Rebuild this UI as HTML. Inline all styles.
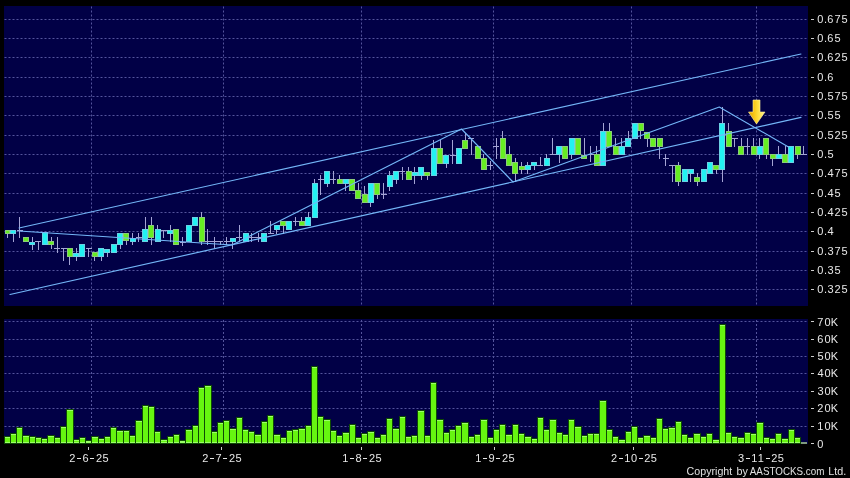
<!DOCTYPE html><html><head><meta charset="utf-8"><style>
html,body{margin:0;padding:0;background:#000;width:850px;height:478px;overflow:hidden}
svg{display:block}
#w{will-change:transform;width:850px;height:478px}
text{font-family:"Liberation Sans",sans-serif;fill:#e8e8e8}
.yl{font-size:11px}
.dl{font-size:11px}
.cp{font-size:10.3px;fill:#e0e0e0}
</style></head><body><div id="w">
<svg width="850" height="478" viewBox="0 0 850 478">
<rect x="0" y="0" width="850" height="478" fill="#000"/>
<rect x="4" y="6" width="804" height="300" fill="#010046"/>
<rect x="4" y="319" width="804" height="125" fill="#010046"/>
<g stroke="#54549c" stroke-width="1" stroke-dasharray="2 2">
<line x1="4.5" y1="19.5" x2="808" y2="19.5"/>
<line x1="4.5" y1="38.5" x2="808" y2="38.5"/>
<line x1="4.5" y1="57.5" x2="808" y2="57.5"/>
<line x1="4.5" y1="77.5" x2="808" y2="77.5"/>
<line x1="4.5" y1="96.5" x2="808" y2="96.5"/>
<line x1="4.5" y1="115.5" x2="808" y2="115.5"/>
<line x1="4.5" y1="135.5" x2="808" y2="135.5"/>
<line x1="4.5" y1="154.5" x2="808" y2="154.5"/>
<line x1="4.5" y1="173.5" x2="808" y2="173.5"/>
<line x1="4.5" y1="193.5" x2="808" y2="193.5"/>
<line x1="4.5" y1="212.5" x2="808" y2="212.5"/>
<line x1="4.5" y1="231.5" x2="808" y2="231.5"/>
<line x1="4.5" y1="251.5" x2="808" y2="251.5"/>
<line x1="4.5" y1="270.5" x2="808" y2="270.5"/>
<line x1="4.5" y1="289.5" x2="808" y2="289.5"/>
<line x1="4.5" y1="321.5" x2="808" y2="321.5"/>
<line x1="4.5" y1="339.5" x2="808" y2="339.5"/>
<line x1="4.5" y1="356.5" x2="808" y2="356.5"/>
<line x1="4.5" y1="373.5" x2="808" y2="373.5"/>
<line x1="4.5" y1="391.5" x2="808" y2="391.5"/>
<line x1="4.5" y1="408.5" x2="808" y2="408.5"/>
<line x1="4.5" y1="426.5" x2="808" y2="426.5"/>
<line x1="91.5" y1="6.5" x2="91.5" y2="306"/>
<line x1="91.5" y1="320" x2="91.5" y2="444"/>
<line x1="223.5" y1="6.5" x2="223.5" y2="306"/>
<line x1="223.5" y1="320" x2="223.5" y2="444"/>
<line x1="361.5" y1="6.5" x2="361.5" y2="306"/>
<line x1="361.5" y1="320" x2="361.5" y2="444"/>
<line x1="493.5" y1="6.5" x2="493.5" y2="306"/>
<line x1="493.5" y1="320" x2="493.5" y2="444"/>
<line x1="631.5" y1="6.5" x2="631.5" y2="306"/>
<line x1="631.5" y1="320" x2="631.5" y2="444"/>
<line x1="756.5" y1="6.5" x2="756.5" y2="306"/>
<line x1="756.5" y1="320" x2="756.5" y2="444"/>
</g>
<g shape-rendering="crispEdges">
<rect x="4" y="436" width="7" height="8" fill="#0e4a04"/>
<rect x="5" y="437" width="5" height="6" fill="#66f510"/>
<rect x="5" y="437" width="5" height="1" fill="#9cff6a"/>
<rect x="5" y="442" width="5" height="1" fill="#9cff6a"/>
<rect x="10" y="433" width="7" height="11" fill="#0e4a04"/>
<rect x="11" y="434" width="5" height="9" fill="#66f510"/>
<rect x="11" y="434" width="5" height="1" fill="#9cff6a"/>
<rect x="11" y="442" width="5" height="1" fill="#9cff6a"/>
<rect x="16" y="427" width="7" height="17" fill="#0e4a04"/>
<rect x="17" y="428" width="5" height="15" fill="#66f510"/>
<rect x="17" y="428" width="5" height="1" fill="#9cff6a"/>
<rect x="17" y="442" width="5" height="1" fill="#9cff6a"/>
<rect x="22" y="435" width="8" height="9" fill="#0e4a04"/>
<rect x="23" y="436" width="6" height="7" fill="#66f510"/>
<rect x="23" y="436" width="6" height="1" fill="#9cff6a"/>
<rect x="23" y="442" width="6" height="1" fill="#9cff6a"/>
<rect x="29" y="436" width="7" height="8" fill="#0e4a04"/>
<rect x="30" y="437" width="5" height="6" fill="#66f510"/>
<rect x="30" y="437" width="5" height="1" fill="#9cff6a"/>
<rect x="30" y="442" width="5" height="1" fill="#9cff6a"/>
<rect x="35" y="437" width="7" height="7" fill="#0e4a04"/>
<rect x="36" y="438" width="5" height="5" fill="#66f510"/>
<rect x="36" y="438" width="5" height="1" fill="#9cff6a"/>
<rect x="36" y="442" width="5" height="1" fill="#9cff6a"/>
<rect x="41" y="438" width="7" height="6" fill="#0e4a04"/>
<rect x="42" y="439" width="5" height="4" fill="#66f510"/>
<rect x="42" y="439" width="5" height="1" fill="#9cff6a"/>
<rect x="42" y="442" width="5" height="1" fill="#9cff6a"/>
<rect x="47" y="435" width="8" height="9" fill="#0e4a04"/>
<rect x="48" y="436" width="6" height="7" fill="#66f510"/>
<rect x="48" y="436" width="6" height="1" fill="#9cff6a"/>
<rect x="48" y="442" width="6" height="1" fill="#9cff6a"/>
<rect x="54" y="437" width="7" height="7" fill="#0e4a04"/>
<rect x="55" y="438" width="5" height="5" fill="#66f510"/>
<rect x="55" y="438" width="5" height="1" fill="#9cff6a"/>
<rect x="55" y="442" width="5" height="1" fill="#9cff6a"/>
<rect x="60" y="426" width="7" height="18" fill="#0e4a04"/>
<rect x="61" y="427" width="5" height="16" fill="#66f510"/>
<rect x="61" y="427" width="5" height="1" fill="#9cff6a"/>
<rect x="61" y="442" width="5" height="1" fill="#9cff6a"/>
<rect x="66" y="409" width="8" height="35" fill="#0e4a04"/>
<rect x="67" y="410" width="6" height="33" fill="#66f510"/>
<rect x="67" y="410" width="6" height="1" fill="#9cff6a"/>
<rect x="67" y="442" width="6" height="1" fill="#9cff6a"/>
<rect x="73" y="439" width="7" height="5" fill="#0e4a04"/>
<rect x="74" y="440" width="5" height="3" fill="#66f510"/>
<rect x="74" y="440" width="5" height="1" fill="#9cff6a"/>
<rect x="74" y="442" width="5" height="1" fill="#9cff6a"/>
<rect x="79" y="437" width="7" height="7" fill="#0e4a04"/>
<rect x="80" y="438" width="5" height="5" fill="#66f510"/>
<rect x="80" y="438" width="5" height="1" fill="#9cff6a"/>
<rect x="80" y="442" width="5" height="1" fill="#9cff6a"/>
<rect x="85" y="440" width="7" height="4" fill="#0e4a04"/>
<rect x="86" y="441" width="5" height="2" fill="#66f510"/>
<rect x="86" y="441" width="5" height="1" fill="#9cff6a"/>
<rect x="86" y="442" width="5" height="1" fill="#9cff6a"/>
<rect x="91" y="436" width="8" height="8" fill="#0e4a04"/>
<rect x="92" y="437" width="6" height="6" fill="#66f510"/>
<rect x="92" y="437" width="6" height="1" fill="#9cff6a"/>
<rect x="92" y="442" width="6" height="1" fill="#9cff6a"/>
<rect x="98" y="438" width="7" height="6" fill="#0e4a04"/>
<rect x="99" y="439" width="5" height="4" fill="#66f510"/>
<rect x="99" y="439" width="5" height="1" fill="#9cff6a"/>
<rect x="99" y="442" width="5" height="1" fill="#9cff6a"/>
<rect x="104" y="436" width="7" height="8" fill="#0e4a04"/>
<rect x="105" y="437" width="5" height="6" fill="#66f510"/>
<rect x="105" y="437" width="5" height="1" fill="#9cff6a"/>
<rect x="105" y="442" width="5" height="1" fill="#9cff6a"/>
<rect x="110" y="427" width="7" height="17" fill="#0e4a04"/>
<rect x="111" y="428" width="5" height="15" fill="#66f510"/>
<rect x="111" y="428" width="5" height="1" fill="#9cff6a"/>
<rect x="111" y="442" width="5" height="1" fill="#9cff6a"/>
<rect x="116" y="430" width="8" height="14" fill="#0e4a04"/>
<rect x="117" y="431" width="6" height="12" fill="#66f510"/>
<rect x="117" y="431" width="6" height="1" fill="#9cff6a"/>
<rect x="117" y="442" width="6" height="1" fill="#9cff6a"/>
<rect x="123" y="430" width="7" height="14" fill="#0e4a04"/>
<rect x="124" y="431" width="5" height="12" fill="#66f510"/>
<rect x="124" y="431" width="5" height="1" fill="#9cff6a"/>
<rect x="124" y="442" width="5" height="1" fill="#9cff6a"/>
<rect x="129" y="435" width="7" height="9" fill="#0e4a04"/>
<rect x="130" y="436" width="5" height="7" fill="#66f510"/>
<rect x="130" y="436" width="5" height="1" fill="#9cff6a"/>
<rect x="130" y="442" width="5" height="1" fill="#9cff6a"/>
<rect x="135" y="420" width="8" height="24" fill="#0e4a04"/>
<rect x="136" y="421" width="6" height="22" fill="#66f510"/>
<rect x="136" y="421" width="6" height="1" fill="#9cff6a"/>
<rect x="136" y="442" width="6" height="1" fill="#9cff6a"/>
<rect x="142" y="405" width="7" height="39" fill="#0e4a04"/>
<rect x="143" y="406" width="5" height="37" fill="#66f510"/>
<rect x="143" y="406" width="5" height="1" fill="#9cff6a"/>
<rect x="143" y="442" width="5" height="1" fill="#9cff6a"/>
<rect x="148" y="406" width="7" height="38" fill="#0e4a04"/>
<rect x="149" y="407" width="5" height="36" fill="#66f510"/>
<rect x="149" y="407" width="5" height="1" fill="#9cff6a"/>
<rect x="149" y="442" width="5" height="1" fill="#9cff6a"/>
<rect x="154" y="431" width="7" height="13" fill="#0e4a04"/>
<rect x="155" y="432" width="5" height="11" fill="#66f510"/>
<rect x="155" y="432" width="5" height="1" fill="#9cff6a"/>
<rect x="155" y="442" width="5" height="1" fill="#9cff6a"/>
<rect x="160" y="439" width="8" height="5" fill="#0e4a04"/>
<rect x="161" y="440" width="6" height="3" fill="#66f510"/>
<rect x="161" y="440" width="6" height="1" fill="#9cff6a"/>
<rect x="161" y="442" width="6" height="1" fill="#9cff6a"/>
<rect x="167" y="436" width="7" height="8" fill="#0e4a04"/>
<rect x="168" y="437" width="5" height="6" fill="#66f510"/>
<rect x="168" y="437" width="5" height="1" fill="#9cff6a"/>
<rect x="168" y="442" width="5" height="1" fill="#9cff6a"/>
<rect x="173" y="434" width="7" height="10" fill="#0e4a04"/>
<rect x="174" y="435" width="5" height="8" fill="#66f510"/>
<rect x="174" y="435" width="5" height="1" fill="#9cff6a"/>
<rect x="174" y="442" width="5" height="1" fill="#9cff6a"/>
<rect x="179" y="440" width="7" height="4" fill="#0e4a04"/>
<rect x="180" y="441" width="5" height="2" fill="#66f510"/>
<rect x="180" y="441" width="5" height="1" fill="#9cff6a"/>
<rect x="180" y="442" width="5" height="1" fill="#9cff6a"/>
<rect x="185" y="429" width="8" height="15" fill="#0e4a04"/>
<rect x="186" y="430" width="6" height="13" fill="#66f510"/>
<rect x="186" y="430" width="6" height="1" fill="#9cff6a"/>
<rect x="186" y="442" width="6" height="1" fill="#9cff6a"/>
<rect x="192" y="425" width="7" height="19" fill="#0e4a04"/>
<rect x="193" y="426" width="5" height="17" fill="#66f510"/>
<rect x="193" y="426" width="5" height="1" fill="#9cff6a"/>
<rect x="193" y="442" width="5" height="1" fill="#9cff6a"/>
<rect x="198" y="387" width="7" height="57" fill="#0e4a04"/>
<rect x="199" y="388" width="5" height="55" fill="#66f510"/>
<rect x="199" y="388" width="5" height="1" fill="#9cff6a"/>
<rect x="199" y="442" width="5" height="1" fill="#9cff6a"/>
<rect x="204" y="385" width="8" height="59" fill="#0e4a04"/>
<rect x="205" y="386" width="6" height="57" fill="#66f510"/>
<rect x="205" y="386" width="6" height="1" fill="#9cff6a"/>
<rect x="205" y="442" width="6" height="1" fill="#9cff6a"/>
<rect x="211" y="431" width="7" height="13" fill="#0e4a04"/>
<rect x="212" y="432" width="5" height="11" fill="#66f510"/>
<rect x="212" y="432" width="5" height="1" fill="#9cff6a"/>
<rect x="212" y="442" width="5" height="1" fill="#9cff6a"/>
<rect x="217" y="422" width="7" height="22" fill="#0e4a04"/>
<rect x="218" y="423" width="5" height="20" fill="#66f510"/>
<rect x="218" y="423" width="5" height="1" fill="#9cff6a"/>
<rect x="218" y="442" width="5" height="1" fill="#9cff6a"/>
<rect x="223" y="420" width="7" height="24" fill="#0e4a04"/>
<rect x="224" y="421" width="5" height="22" fill="#66f510"/>
<rect x="224" y="421" width="5" height="1" fill="#9cff6a"/>
<rect x="224" y="442" width="5" height="1" fill="#9cff6a"/>
<rect x="229" y="428" width="8" height="16" fill="#0e4a04"/>
<rect x="230" y="429" width="6" height="14" fill="#66f510"/>
<rect x="230" y="429" width="6" height="1" fill="#9cff6a"/>
<rect x="230" y="442" width="6" height="1" fill="#9cff6a"/>
<rect x="236" y="417" width="7" height="27" fill="#0e4a04"/>
<rect x="237" y="418" width="5" height="25" fill="#66f510"/>
<rect x="237" y="418" width="5" height="1" fill="#9cff6a"/>
<rect x="237" y="442" width="5" height="1" fill="#9cff6a"/>
<rect x="242" y="429" width="7" height="15" fill="#0e4a04"/>
<rect x="243" y="430" width="5" height="13" fill="#66f510"/>
<rect x="243" y="430" width="5" height="1" fill="#9cff6a"/>
<rect x="243" y="442" width="5" height="1" fill="#9cff6a"/>
<rect x="248" y="431" width="7" height="13" fill="#0e4a04"/>
<rect x="249" y="432" width="5" height="11" fill="#66f510"/>
<rect x="249" y="432" width="5" height="1" fill="#9cff6a"/>
<rect x="249" y="442" width="5" height="1" fill="#9cff6a"/>
<rect x="254" y="434" width="8" height="10" fill="#0e4a04"/>
<rect x="255" y="435" width="6" height="8" fill="#66f510"/>
<rect x="255" y="435" width="6" height="1" fill="#9cff6a"/>
<rect x="255" y="442" width="6" height="1" fill="#9cff6a"/>
<rect x="261" y="421" width="7" height="23" fill="#0e4a04"/>
<rect x="262" y="422" width="5" height="21" fill="#66f510"/>
<rect x="262" y="422" width="5" height="1" fill="#9cff6a"/>
<rect x="262" y="442" width="5" height="1" fill="#9cff6a"/>
<rect x="267" y="415" width="7" height="29" fill="#0e4a04"/>
<rect x="268" y="416" width="5" height="27" fill="#66f510"/>
<rect x="268" y="416" width="5" height="1" fill="#9cff6a"/>
<rect x="268" y="442" width="5" height="1" fill="#9cff6a"/>
<rect x="273" y="434" width="8" height="10" fill="#0e4a04"/>
<rect x="274" y="435" width="6" height="8" fill="#66f510"/>
<rect x="274" y="435" width="6" height="1" fill="#9cff6a"/>
<rect x="274" y="442" width="6" height="1" fill="#9cff6a"/>
<rect x="280" y="437" width="7" height="7" fill="#0e4a04"/>
<rect x="281" y="438" width="5" height="5" fill="#66f510"/>
<rect x="281" y="438" width="5" height="1" fill="#9cff6a"/>
<rect x="281" y="442" width="5" height="1" fill="#9cff6a"/>
<rect x="286" y="430" width="7" height="14" fill="#0e4a04"/>
<rect x="287" y="431" width="5" height="12" fill="#66f510"/>
<rect x="287" y="431" width="5" height="1" fill="#9cff6a"/>
<rect x="287" y="442" width="5" height="1" fill="#9cff6a"/>
<rect x="292" y="429" width="7" height="15" fill="#0e4a04"/>
<rect x="293" y="430" width="5" height="13" fill="#66f510"/>
<rect x="293" y="430" width="5" height="1" fill="#9cff6a"/>
<rect x="293" y="442" width="5" height="1" fill="#9cff6a"/>
<rect x="298" y="428" width="8" height="16" fill="#0e4a04"/>
<rect x="299" y="429" width="6" height="14" fill="#66f510"/>
<rect x="299" y="429" width="6" height="1" fill="#9cff6a"/>
<rect x="299" y="442" width="6" height="1" fill="#9cff6a"/>
<rect x="305" y="425" width="7" height="19" fill="#0e4a04"/>
<rect x="306" y="426" width="5" height="17" fill="#66f510"/>
<rect x="306" y="426" width="5" height="1" fill="#9cff6a"/>
<rect x="306" y="442" width="5" height="1" fill="#9cff6a"/>
<rect x="311" y="366" width="7" height="78" fill="#0e4a04"/>
<rect x="312" y="367" width="5" height="76" fill="#66f510"/>
<rect x="312" y="367" width="5" height="1" fill="#9cff6a"/>
<rect x="312" y="442" width="5" height="1" fill="#9cff6a"/>
<rect x="317" y="416" width="7" height="28" fill="#0e4a04"/>
<rect x="318" y="417" width="5" height="26" fill="#66f510"/>
<rect x="318" y="417" width="5" height="1" fill="#9cff6a"/>
<rect x="318" y="442" width="5" height="1" fill="#9cff6a"/>
<rect x="323" y="419" width="8" height="25" fill="#0e4a04"/>
<rect x="324" y="420" width="6" height="23" fill="#66f510"/>
<rect x="324" y="420" width="6" height="1" fill="#9cff6a"/>
<rect x="324" y="442" width="6" height="1" fill="#9cff6a"/>
<rect x="330" y="430" width="7" height="14" fill="#0e4a04"/>
<rect x="331" y="431" width="5" height="12" fill="#66f510"/>
<rect x="331" y="431" width="5" height="1" fill="#9cff6a"/>
<rect x="331" y="442" width="5" height="1" fill="#9cff6a"/>
<rect x="336" y="435" width="7" height="9" fill="#0e4a04"/>
<rect x="337" y="436" width="5" height="7" fill="#66f510"/>
<rect x="337" y="436" width="5" height="1" fill="#9cff6a"/>
<rect x="337" y="442" width="5" height="1" fill="#9cff6a"/>
<rect x="342" y="432" width="8" height="12" fill="#0e4a04"/>
<rect x="343" y="433" width="6" height="10" fill="#66f510"/>
<rect x="343" y="433" width="6" height="1" fill="#9cff6a"/>
<rect x="343" y="442" width="6" height="1" fill="#9cff6a"/>
<rect x="349" y="424" width="7" height="20" fill="#0e4a04"/>
<rect x="350" y="425" width="5" height="18" fill="#66f510"/>
<rect x="350" y="425" width="5" height="1" fill="#9cff6a"/>
<rect x="350" y="442" width="5" height="1" fill="#9cff6a"/>
<rect x="355" y="437" width="7" height="7" fill="#0e4a04"/>
<rect x="356" y="438" width="5" height="5" fill="#66f510"/>
<rect x="356" y="438" width="5" height="1" fill="#9cff6a"/>
<rect x="356" y="442" width="5" height="1" fill="#9cff6a"/>
<rect x="361" y="433" width="7" height="11" fill="#0e4a04"/>
<rect x="362" y="434" width="5" height="9" fill="#66f510"/>
<rect x="362" y="434" width="5" height="1" fill="#9cff6a"/>
<rect x="362" y="442" width="5" height="1" fill="#9cff6a"/>
<rect x="367" y="431" width="8" height="13" fill="#0e4a04"/>
<rect x="368" y="432" width="6" height="11" fill="#66f510"/>
<rect x="368" y="432" width="6" height="1" fill="#9cff6a"/>
<rect x="368" y="442" width="6" height="1" fill="#9cff6a"/>
<rect x="374" y="437" width="7" height="7" fill="#0e4a04"/>
<rect x="375" y="438" width="5" height="5" fill="#66f510"/>
<rect x="375" y="438" width="5" height="1" fill="#9cff6a"/>
<rect x="375" y="442" width="5" height="1" fill="#9cff6a"/>
<rect x="380" y="434" width="7" height="10" fill="#0e4a04"/>
<rect x="381" y="435" width="5" height="8" fill="#66f510"/>
<rect x="381" y="435" width="5" height="1" fill="#9cff6a"/>
<rect x="381" y="442" width="5" height="1" fill="#9cff6a"/>
<rect x="386" y="418" width="7" height="26" fill="#0e4a04"/>
<rect x="387" y="419" width="5" height="24" fill="#66f510"/>
<rect x="387" y="419" width="5" height="1" fill="#9cff6a"/>
<rect x="387" y="442" width="5" height="1" fill="#9cff6a"/>
<rect x="392" y="428" width="8" height="16" fill="#0e4a04"/>
<rect x="393" y="429" width="6" height="14" fill="#66f510"/>
<rect x="393" y="429" width="6" height="1" fill="#9cff6a"/>
<rect x="393" y="442" width="6" height="1" fill="#9cff6a"/>
<rect x="399" y="416" width="7" height="28" fill="#0e4a04"/>
<rect x="400" y="417" width="5" height="26" fill="#66f510"/>
<rect x="400" y="417" width="5" height="1" fill="#9cff6a"/>
<rect x="400" y="442" width="5" height="1" fill="#9cff6a"/>
<rect x="405" y="436" width="7" height="8" fill="#0e4a04"/>
<rect x="406" y="437" width="5" height="6" fill="#66f510"/>
<rect x="406" y="437" width="5" height="1" fill="#9cff6a"/>
<rect x="406" y="442" width="5" height="1" fill="#9cff6a"/>
<rect x="411" y="435" width="7" height="9" fill="#0e4a04"/>
<rect x="412" y="436" width="5" height="7" fill="#66f510"/>
<rect x="412" y="436" width="5" height="1" fill="#9cff6a"/>
<rect x="412" y="442" width="5" height="1" fill="#9cff6a"/>
<rect x="417" y="410" width="8" height="34" fill="#0e4a04"/>
<rect x="418" y="411" width="6" height="32" fill="#66f510"/>
<rect x="418" y="411" width="6" height="1" fill="#9cff6a"/>
<rect x="418" y="442" width="6" height="1" fill="#9cff6a"/>
<rect x="424" y="435" width="7" height="9" fill="#0e4a04"/>
<rect x="425" y="436" width="5" height="7" fill="#66f510"/>
<rect x="425" y="436" width="5" height="1" fill="#9cff6a"/>
<rect x="425" y="442" width="5" height="1" fill="#9cff6a"/>
<rect x="430" y="382" width="7" height="62" fill="#0e4a04"/>
<rect x="431" y="383" width="5" height="60" fill="#66f510"/>
<rect x="431" y="383" width="5" height="1" fill="#9cff6a"/>
<rect x="431" y="442" width="5" height="1" fill="#9cff6a"/>
<rect x="436" y="419" width="8" height="25" fill="#0e4a04"/>
<rect x="437" y="420" width="6" height="23" fill="#66f510"/>
<rect x="437" y="420" width="6" height="1" fill="#9cff6a"/>
<rect x="437" y="442" width="6" height="1" fill="#9cff6a"/>
<rect x="443" y="432" width="7" height="12" fill="#0e4a04"/>
<rect x="444" y="433" width="5" height="10" fill="#66f510"/>
<rect x="444" y="433" width="5" height="1" fill="#9cff6a"/>
<rect x="444" y="442" width="5" height="1" fill="#9cff6a"/>
<rect x="449" y="429" width="7" height="15" fill="#0e4a04"/>
<rect x="450" y="430" width="5" height="13" fill="#66f510"/>
<rect x="450" y="430" width="5" height="1" fill="#9cff6a"/>
<rect x="450" y="442" width="5" height="1" fill="#9cff6a"/>
<rect x="455" y="425" width="7" height="19" fill="#0e4a04"/>
<rect x="456" y="426" width="5" height="17" fill="#66f510"/>
<rect x="456" y="426" width="5" height="1" fill="#9cff6a"/>
<rect x="456" y="442" width="5" height="1" fill="#9cff6a"/>
<rect x="461" y="422" width="8" height="22" fill="#0e4a04"/>
<rect x="462" y="423" width="6" height="20" fill="#66f510"/>
<rect x="462" y="423" width="6" height="1" fill="#9cff6a"/>
<rect x="462" y="442" width="6" height="1" fill="#9cff6a"/>
<rect x="468" y="436" width="7" height="8" fill="#0e4a04"/>
<rect x="469" y="437" width="5" height="6" fill="#66f510"/>
<rect x="469" y="437" width="5" height="1" fill="#9cff6a"/>
<rect x="469" y="442" width="5" height="1" fill="#9cff6a"/>
<rect x="474" y="434" width="7" height="10" fill="#0e4a04"/>
<rect x="475" y="435" width="5" height="8" fill="#66f510"/>
<rect x="475" y="435" width="5" height="1" fill="#9cff6a"/>
<rect x="475" y="442" width="5" height="1" fill="#9cff6a"/>
<rect x="480" y="419" width="8" height="25" fill="#0e4a04"/>
<rect x="481" y="420" width="6" height="23" fill="#66f510"/>
<rect x="481" y="420" width="6" height="1" fill="#9cff6a"/>
<rect x="481" y="442" width="6" height="1" fill="#9cff6a"/>
<rect x="487" y="437" width="7" height="7" fill="#0e4a04"/>
<rect x="488" y="438" width="5" height="5" fill="#66f510"/>
<rect x="488" y="438" width="5" height="1" fill="#9cff6a"/>
<rect x="488" y="442" width="5" height="1" fill="#9cff6a"/>
<rect x="493" y="429" width="7" height="15" fill="#0e4a04"/>
<rect x="494" y="430" width="5" height="13" fill="#66f510"/>
<rect x="494" y="430" width="5" height="1" fill="#9cff6a"/>
<rect x="494" y="442" width="5" height="1" fill="#9cff6a"/>
<rect x="499" y="424" width="7" height="20" fill="#0e4a04"/>
<rect x="500" y="425" width="5" height="18" fill="#66f510"/>
<rect x="500" y="425" width="5" height="1" fill="#9cff6a"/>
<rect x="500" y="442" width="5" height="1" fill="#9cff6a"/>
<rect x="505" y="434" width="8" height="10" fill="#0e4a04"/>
<rect x="506" y="435" width="6" height="8" fill="#66f510"/>
<rect x="506" y="435" width="6" height="1" fill="#9cff6a"/>
<rect x="506" y="442" width="6" height="1" fill="#9cff6a"/>
<rect x="512" y="424" width="7" height="20" fill="#0e4a04"/>
<rect x="513" y="425" width="5" height="18" fill="#66f510"/>
<rect x="513" y="425" width="5" height="1" fill="#9cff6a"/>
<rect x="513" y="442" width="5" height="1" fill="#9cff6a"/>
<rect x="518" y="433" width="7" height="11" fill="#0e4a04"/>
<rect x="519" y="434" width="5" height="9" fill="#66f510"/>
<rect x="519" y="434" width="5" height="1" fill="#9cff6a"/>
<rect x="519" y="442" width="5" height="1" fill="#9cff6a"/>
<rect x="524" y="436" width="8" height="8" fill="#0e4a04"/>
<rect x="525" y="437" width="6" height="6" fill="#66f510"/>
<rect x="525" y="437" width="6" height="1" fill="#9cff6a"/>
<rect x="525" y="442" width="6" height="1" fill="#9cff6a"/>
<rect x="531" y="438" width="7" height="6" fill="#0e4a04"/>
<rect x="532" y="439" width="5" height="4" fill="#66f510"/>
<rect x="532" y="439" width="5" height="1" fill="#9cff6a"/>
<rect x="532" y="442" width="5" height="1" fill="#9cff6a"/>
<rect x="537" y="417" width="7" height="27" fill="#0e4a04"/>
<rect x="538" y="418" width="5" height="25" fill="#66f510"/>
<rect x="538" y="418" width="5" height="1" fill="#9cff6a"/>
<rect x="538" y="442" width="5" height="1" fill="#9cff6a"/>
<rect x="543" y="429" width="7" height="15" fill="#0e4a04"/>
<rect x="544" y="430" width="5" height="13" fill="#66f510"/>
<rect x="544" y="430" width="5" height="1" fill="#9cff6a"/>
<rect x="544" y="442" width="5" height="1" fill="#9cff6a"/>
<rect x="549" y="419" width="8" height="25" fill="#0e4a04"/>
<rect x="550" y="420" width="6" height="23" fill="#66f510"/>
<rect x="550" y="420" width="6" height="1" fill="#9cff6a"/>
<rect x="550" y="442" width="6" height="1" fill="#9cff6a"/>
<rect x="556" y="432" width="7" height="12" fill="#0e4a04"/>
<rect x="557" y="433" width="5" height="10" fill="#66f510"/>
<rect x="557" y="433" width="5" height="1" fill="#9cff6a"/>
<rect x="557" y="442" width="5" height="1" fill="#9cff6a"/>
<rect x="562" y="434" width="7" height="10" fill="#0e4a04"/>
<rect x="563" y="435" width="5" height="8" fill="#66f510"/>
<rect x="563" y="435" width="5" height="1" fill="#9cff6a"/>
<rect x="563" y="442" width="5" height="1" fill="#9cff6a"/>
<rect x="568" y="419" width="7" height="25" fill="#0e4a04"/>
<rect x="569" y="420" width="5" height="23" fill="#66f510"/>
<rect x="569" y="420" width="5" height="1" fill="#9cff6a"/>
<rect x="569" y="442" width="5" height="1" fill="#9cff6a"/>
<rect x="574" y="426" width="8" height="18" fill="#0e4a04"/>
<rect x="575" y="427" width="6" height="16" fill="#66f510"/>
<rect x="575" y="427" width="6" height="1" fill="#9cff6a"/>
<rect x="575" y="442" width="6" height="1" fill="#9cff6a"/>
<rect x="581" y="435" width="7" height="9" fill="#0e4a04"/>
<rect x="582" y="436" width="5" height="7" fill="#66f510"/>
<rect x="582" y="436" width="5" height="1" fill="#9cff6a"/>
<rect x="582" y="442" width="5" height="1" fill="#9cff6a"/>
<rect x="587" y="433" width="7" height="11" fill="#0e4a04"/>
<rect x="588" y="434" width="5" height="9" fill="#66f510"/>
<rect x="588" y="434" width="5" height="1" fill="#9cff6a"/>
<rect x="588" y="442" width="5" height="1" fill="#9cff6a"/>
<rect x="593" y="433" width="7" height="11" fill="#0e4a04"/>
<rect x="594" y="434" width="5" height="9" fill="#66f510"/>
<rect x="594" y="434" width="5" height="1" fill="#9cff6a"/>
<rect x="594" y="442" width="5" height="1" fill="#9cff6a"/>
<rect x="599" y="400" width="8" height="44" fill="#0e4a04"/>
<rect x="600" y="401" width="6" height="42" fill="#66f510"/>
<rect x="600" y="401" width="6" height="1" fill="#9cff6a"/>
<rect x="600" y="442" width="6" height="1" fill="#9cff6a"/>
<rect x="606" y="429" width="7" height="15" fill="#0e4a04"/>
<rect x="607" y="430" width="5" height="13" fill="#66f510"/>
<rect x="607" y="430" width="5" height="1" fill="#9cff6a"/>
<rect x="607" y="442" width="5" height="1" fill="#9cff6a"/>
<rect x="612" y="436" width="7" height="8" fill="#0e4a04"/>
<rect x="613" y="437" width="5" height="6" fill="#66f510"/>
<rect x="613" y="437" width="5" height="1" fill="#9cff6a"/>
<rect x="613" y="442" width="5" height="1" fill="#9cff6a"/>
<rect x="618" y="439" width="8" height="5" fill="#0e4a04"/>
<rect x="619" y="440" width="6" height="3" fill="#66f510"/>
<rect x="619" y="440" width="6" height="1" fill="#9cff6a"/>
<rect x="619" y="442" width="6" height="1" fill="#9cff6a"/>
<rect x="625" y="431" width="7" height="13" fill="#0e4a04"/>
<rect x="626" y="432" width="5" height="11" fill="#66f510"/>
<rect x="626" y="432" width="5" height="1" fill="#9cff6a"/>
<rect x="626" y="442" width="5" height="1" fill="#9cff6a"/>
<rect x="631" y="426" width="7" height="18" fill="#0e4a04"/>
<rect x="632" y="427" width="5" height="16" fill="#66f510"/>
<rect x="632" y="427" width="5" height="1" fill="#9cff6a"/>
<rect x="632" y="442" width="5" height="1" fill="#9cff6a"/>
<rect x="637" y="437" width="7" height="7" fill="#0e4a04"/>
<rect x="638" y="438" width="5" height="5" fill="#66f510"/>
<rect x="638" y="438" width="5" height="1" fill="#9cff6a"/>
<rect x="638" y="442" width="5" height="1" fill="#9cff6a"/>
<rect x="643" y="435" width="8" height="9" fill="#0e4a04"/>
<rect x="644" y="436" width="6" height="7" fill="#66f510"/>
<rect x="644" y="436" width="6" height="1" fill="#9cff6a"/>
<rect x="644" y="442" width="6" height="1" fill="#9cff6a"/>
<rect x="650" y="437" width="7" height="7" fill="#0e4a04"/>
<rect x="651" y="438" width="5" height="5" fill="#66f510"/>
<rect x="651" y="438" width="5" height="1" fill="#9cff6a"/>
<rect x="651" y="442" width="5" height="1" fill="#9cff6a"/>
<rect x="656" y="418" width="7" height="26" fill="#0e4a04"/>
<rect x="657" y="419" width="5" height="24" fill="#66f510"/>
<rect x="657" y="419" width="5" height="1" fill="#9cff6a"/>
<rect x="657" y="442" width="5" height="1" fill="#9cff6a"/>
<rect x="662" y="428" width="7" height="16" fill="#0e4a04"/>
<rect x="663" y="429" width="5" height="14" fill="#66f510"/>
<rect x="663" y="429" width="5" height="1" fill="#9cff6a"/>
<rect x="663" y="442" width="5" height="1" fill="#9cff6a"/>
<rect x="668" y="427" width="8" height="17" fill="#0e4a04"/>
<rect x="669" y="428" width="6" height="15" fill="#66f510"/>
<rect x="669" y="428" width="6" height="1" fill="#9cff6a"/>
<rect x="669" y="442" width="6" height="1" fill="#9cff6a"/>
<rect x="675" y="421" width="7" height="23" fill="#0e4a04"/>
<rect x="676" y="422" width="5" height="21" fill="#66f510"/>
<rect x="676" y="422" width="5" height="1" fill="#9cff6a"/>
<rect x="676" y="442" width="5" height="1" fill="#9cff6a"/>
<rect x="681" y="434" width="7" height="10" fill="#0e4a04"/>
<rect x="682" y="435" width="5" height="8" fill="#66f510"/>
<rect x="682" y="435" width="5" height="1" fill="#9cff6a"/>
<rect x="682" y="442" width="5" height="1" fill="#9cff6a"/>
<rect x="687" y="437" width="7" height="7" fill="#0e4a04"/>
<rect x="688" y="438" width="5" height="5" fill="#66f510"/>
<rect x="688" y="438" width="5" height="1" fill="#9cff6a"/>
<rect x="688" y="442" width="5" height="1" fill="#9cff6a"/>
<rect x="693" y="433" width="8" height="11" fill="#0e4a04"/>
<rect x="694" y="434" width="6" height="9" fill="#66f510"/>
<rect x="694" y="434" width="6" height="1" fill="#9cff6a"/>
<rect x="694" y="442" width="6" height="1" fill="#9cff6a"/>
<rect x="700" y="436" width="7" height="8" fill="#0e4a04"/>
<rect x="701" y="437" width="5" height="6" fill="#66f510"/>
<rect x="701" y="437" width="5" height="1" fill="#9cff6a"/>
<rect x="701" y="442" width="5" height="1" fill="#9cff6a"/>
<rect x="706" y="433" width="7" height="11" fill="#0e4a04"/>
<rect x="707" y="434" width="5" height="9" fill="#66f510"/>
<rect x="707" y="434" width="5" height="1" fill="#9cff6a"/>
<rect x="707" y="442" width="5" height="1" fill="#9cff6a"/>
<rect x="712" y="439" width="8" height="5" fill="#0e4a04"/>
<rect x="713" y="440" width="6" height="3" fill="#66f510"/>
<rect x="713" y="440" width="6" height="1" fill="#9cff6a"/>
<rect x="713" y="442" width="6" height="1" fill="#9cff6a"/>
<rect x="719" y="324" width="7" height="120" fill="#0e4a04"/>
<rect x="720" y="325" width="5" height="118" fill="#66f510"/>
<rect x="720" y="325" width="5" height="1" fill="#9cff6a"/>
<rect x="720" y="442" width="5" height="1" fill="#9cff6a"/>
<rect x="725" y="432" width="7" height="12" fill="#0e4a04"/>
<rect x="726" y="433" width="5" height="10" fill="#66f510"/>
<rect x="726" y="433" width="5" height="1" fill="#9cff6a"/>
<rect x="726" y="442" width="5" height="1" fill="#9cff6a"/>
<rect x="731" y="436" width="7" height="8" fill="#0e4a04"/>
<rect x="732" y="437" width="5" height="6" fill="#66f510"/>
<rect x="732" y="437" width="5" height="1" fill="#9cff6a"/>
<rect x="732" y="442" width="5" height="1" fill="#9cff6a"/>
<rect x="737" y="437" width="8" height="7" fill="#0e4a04"/>
<rect x="738" y="438" width="6" height="5" fill="#66f510"/>
<rect x="738" y="438" width="6" height="1" fill="#9cff6a"/>
<rect x="738" y="442" width="6" height="1" fill="#9cff6a"/>
<rect x="744" y="432" width="7" height="12" fill="#0e4a04"/>
<rect x="745" y="433" width="5" height="10" fill="#66f510"/>
<rect x="745" y="433" width="5" height="1" fill="#9cff6a"/>
<rect x="745" y="442" width="5" height="1" fill="#9cff6a"/>
<rect x="750" y="433" width="7" height="11" fill="#0e4a04"/>
<rect x="751" y="434" width="5" height="9" fill="#66f510"/>
<rect x="751" y="434" width="5" height="1" fill="#9cff6a"/>
<rect x="751" y="442" width="5" height="1" fill="#9cff6a"/>
<rect x="756" y="422" width="8" height="22" fill="#0e4a04"/>
<rect x="757" y="423" width="6" height="20" fill="#66f510"/>
<rect x="757" y="423" width="6" height="1" fill="#9cff6a"/>
<rect x="757" y="442" width="6" height="1" fill="#9cff6a"/>
<rect x="763" y="437" width="7" height="7" fill="#0e4a04"/>
<rect x="764" y="438" width="5" height="5" fill="#66f510"/>
<rect x="764" y="438" width="5" height="1" fill="#9cff6a"/>
<rect x="764" y="442" width="5" height="1" fill="#9cff6a"/>
<rect x="769" y="438" width="7" height="6" fill="#0e4a04"/>
<rect x="770" y="439" width="5" height="4" fill="#66f510"/>
<rect x="770" y="439" width="5" height="1" fill="#9cff6a"/>
<rect x="770" y="442" width="5" height="1" fill="#9cff6a"/>
<rect x="775" y="433" width="7" height="11" fill="#0e4a04"/>
<rect x="776" y="434" width="5" height="9" fill="#66f510"/>
<rect x="776" y="434" width="5" height="1" fill="#9cff6a"/>
<rect x="776" y="442" width="5" height="1" fill="#9cff6a"/>
<rect x="781" y="438" width="8" height="6" fill="#0e4a04"/>
<rect x="782" y="439" width="6" height="4" fill="#66f510"/>
<rect x="782" y="439" width="6" height="1" fill="#9cff6a"/>
<rect x="782" y="442" width="6" height="1" fill="#9cff6a"/>
<rect x="788" y="429" width="7" height="15" fill="#0e4a04"/>
<rect x="789" y="430" width="5" height="13" fill="#66f510"/>
<rect x="789" y="430" width="5" height="1" fill="#9cff6a"/>
<rect x="789" y="442" width="5" height="1" fill="#9cff6a"/>
<rect x="794" y="437" width="7" height="7" fill="#0e4a04"/>
<rect x="795" y="438" width="5" height="5" fill="#66f510"/>
<rect x="795" y="438" width="5" height="1" fill="#9cff6a"/>
<rect x="795" y="442" width="5" height="1" fill="#9cff6a"/>
<rect x="801" y="442" width="6" height="2" fill="#7f9a7f"/>
</g>
<g shape-rendering="crispEdges">
<rect x="7" y="230" width="1" height="8" fill="#a4a4d4"/>
<rect x="5" y="230" width="5" height="4" fill="#8ccc78"/>
<rect x="6" y="231" width="3" height="2" fill="#66ee22"/>
<rect x="13" y="230" width="1" height="12" fill="#a4a4d4"/>
<rect x="10" y="230" width="6" height="4" fill="#6cd0e4"/>
<rect x="11" y="231" width="4" height="2" fill="#22f2f2"/>
<rect x="19" y="217" width="1" height="21" fill="#a4a4d4"/>
<rect x="17" y="230" width="6" height="1" fill="#a4a4d4"/>
<rect x="25" y="237" width="1" height="5" fill="#a4a4d4"/>
<rect x="23" y="237" width="6" height="5" fill="#8ccc78"/>
<rect x="24" y="238" width="4" height="3" fill="#66ee22"/>
<rect x="32" y="237" width="1" height="13" fill="#a4a4d4"/>
<rect x="29" y="242" width="6" height="3" fill="#6cd0e4"/>
<rect x="30" y="243" width="4" height="1" fill="#22f2f2"/>
<rect x="38" y="241" width="1" height="9" fill="#a4a4d4"/>
<rect x="35" y="241" width="6" height="1" fill="#a4a4d4"/>
<rect x="44" y="232" width="1" height="13" fill="#a4a4d4"/>
<rect x="42" y="232" width="6" height="13" fill="#6cd0e4"/>
<rect x="43" y="233" width="4" height="11" fill="#22f2f2"/>
<rect x="51" y="237" width="1" height="12" fill="#a4a4d4"/>
<rect x="48" y="241" width="6" height="4" fill="#8ccc78"/>
<rect x="49" y="242" width="4" height="2" fill="#66ee22"/>
<rect x="57" y="237" width="1" height="16" fill="#a4a4d4"/>
<rect x="54" y="248" width="6" height="1" fill="#a4a4d4"/>
<rect x="63" y="248" width="1" height="13" fill="#a4a4d4"/>
<rect x="61" y="248" width="6" height="1" fill="#a4a4d4"/>
<rect x="69" y="248" width="1" height="17" fill="#a4a4d4"/>
<rect x="67" y="248" width="6" height="9" fill="#8ccc78"/>
<rect x="68" y="249" width="4" height="7" fill="#66ee22"/>
<rect x="76" y="248" width="1" height="13" fill="#a4a4d4"/>
<rect x="73" y="253" width="6" height="4" fill="#6cd0e4"/>
<rect x="74" y="254" width="4" height="2" fill="#22f2f2"/>
<rect x="82" y="244" width="1" height="13" fill="#a4a4d4"/>
<rect x="79" y="244" width="6" height="13" fill="#6cd0e4"/>
<rect x="80" y="245" width="4" height="11" fill="#22f2f2"/>
<rect x="88" y="248" width="1" height="9" fill="#a4a4d4"/>
<rect x="86" y="248" width="6" height="1" fill="#a4a4d4"/>
<rect x="94" y="252" width="1" height="9" fill="#a4a4d4"/>
<rect x="92" y="252" width="6" height="5" fill="#8ccc78"/>
<rect x="93" y="253" width="4" height="3" fill="#66ee22"/>
<rect x="101" y="248" width="1" height="13" fill="#a4a4d4"/>
<rect x="98" y="248" width="6" height="9" fill="#6cd0e4"/>
<rect x="99" y="249" width="4" height="7" fill="#22f2f2"/>
<rect x="107" y="249" width="1" height="8" fill="#a4a4d4"/>
<rect x="104" y="249" width="6" height="4" fill="#6cd0e4"/>
<rect x="105" y="250" width="4" height="2" fill="#22f2f2"/>
<rect x="113" y="244" width="1" height="9" fill="#a4a4d4"/>
<rect x="111" y="244" width="6" height="9" fill="#6cd0e4"/>
<rect x="112" y="245" width="4" height="7" fill="#22f2f2"/>
<rect x="120" y="233" width="1" height="16" fill="#a4a4d4"/>
<rect x="117" y="233" width="6" height="12" fill="#6cd0e4"/>
<rect x="118" y="234" width="4" height="10" fill="#22f2f2"/>
<rect x="126" y="233" width="1" height="12" fill="#a4a4d4"/>
<rect x="123" y="233" width="6" height="8" fill="#8ccc78"/>
<rect x="124" y="234" width="4" height="6" fill="#66ee22"/>
<rect x="132" y="233" width="1" height="12" fill="#a4a4d4"/>
<rect x="130" y="238" width="6" height="4" fill="#6cd0e4"/>
<rect x="131" y="239" width="4" height="2" fill="#22f2f2"/>
<rect x="138" y="233" width="1" height="9" fill="#a4a4d4"/>
<rect x="136" y="237" width="6" height="1" fill="#a4a4d4"/>
<rect x="145" y="217" width="1" height="25" fill="#a4a4d4"/>
<rect x="142" y="229" width="6" height="13" fill="#6cd0e4"/>
<rect x="143" y="230" width="4" height="11" fill="#22f2f2"/>
<rect x="151" y="217" width="1" height="28" fill="#a4a4d4"/>
<rect x="148" y="225" width="6" height="13" fill="#8ccc78"/>
<rect x="149" y="226" width="4" height="11" fill="#66ee22"/>
<rect x="157" y="225" width="1" height="17" fill="#a4a4d4"/>
<rect x="155" y="229" width="6" height="13" fill="#6cd0e4"/>
<rect x="156" y="230" width="4" height="11" fill="#22f2f2"/>
<rect x="163" y="230" width="1" height="8" fill="#a4a4d4"/>
<rect x="161" y="230" width="6" height="1" fill="#a4a4d4"/>
<rect x="170" y="225" width="1" height="17" fill="#a4a4d4"/>
<rect x="167" y="230" width="6" height="4" fill="#6cd0e4"/>
<rect x="168" y="231" width="4" height="2" fill="#22f2f2"/>
<rect x="176" y="229" width="1" height="16" fill="#a4a4d4"/>
<rect x="173" y="229" width="6" height="16" fill="#8ccc78"/>
<rect x="174" y="230" width="4" height="14" fill="#66ee22"/>
<rect x="182" y="237" width="1" height="9" fill="#a4a4d4"/>
<rect x="180" y="242" width="6" height="1" fill="#a4a4d4"/>
<rect x="189" y="225" width="1" height="17" fill="#a4a4d4"/>
<rect x="186" y="225" width="6" height="17" fill="#6cd0e4"/>
<rect x="187" y="226" width="4" height="15" fill="#22f2f2"/>
<rect x="195" y="217" width="1" height="9" fill="#a4a4d4"/>
<rect x="192" y="217" width="6" height="9" fill="#6cd0e4"/>
<rect x="193" y="218" width="4" height="7" fill="#22f2f2"/>
<rect x="201" y="212" width="1" height="33" fill="#a4a4d4"/>
<rect x="199" y="217" width="6" height="25" fill="#8ccc78"/>
<rect x="200" y="218" width="4" height="23" fill="#66ee22"/>
<rect x="207" y="229" width="1" height="16" fill="#a4a4d4"/>
<rect x="205" y="241" width="6" height="1" fill="#a4a4d4"/>
<rect x="214" y="237" width="1" height="12" fill="#a4a4d4"/>
<rect x="211" y="241" width="6" height="1" fill="#a4a4d4"/>
<rect x="220" y="241" width="1" height="4" fill="#a4a4d4"/>
<rect x="217" y="241" width="6" height="1" fill="#a4a4d4"/>
<rect x="226" y="237" width="1" height="8" fill="#a4a4d4"/>
<rect x="224" y="241" width="6" height="1" fill="#a4a4d4"/>
<rect x="232" y="238" width="1" height="11" fill="#a4a4d4"/>
<rect x="230" y="238" width="6" height="4" fill="#6cd0e4"/>
<rect x="231" y="239" width="4" height="2" fill="#22f2f2"/>
<rect x="239" y="225" width="1" height="17" fill="#a4a4d4"/>
<rect x="236" y="237" width="6" height="1" fill="#a4a4d4"/>
<rect x="245" y="233" width="1" height="9" fill="#a4a4d4"/>
<rect x="243" y="233" width="6" height="9" fill="#6cd0e4"/>
<rect x="244" y="234" width="4" height="7" fill="#22f2f2"/>
<rect x="251" y="233" width="1" height="9" fill="#a4a4d4"/>
<rect x="249" y="237" width="6" height="1" fill="#a4a4d4"/>
<rect x="258" y="233" width="1" height="9" fill="#a4a4d4"/>
<rect x="255" y="237" width="6" height="1" fill="#a4a4d4"/>
<rect x="264" y="233" width="1" height="9" fill="#a4a4d4"/>
<rect x="261" y="233" width="6" height="9" fill="#6cd0e4"/>
<rect x="262" y="234" width="4" height="7" fill="#22f2f2"/>
<rect x="270" y="221" width="1" height="13" fill="#a4a4d4"/>
<rect x="268" y="233" width="6" height="1" fill="#a4a4d4"/>
<rect x="276" y="225" width="1" height="9" fill="#a4a4d4"/>
<rect x="274" y="225" width="6" height="5" fill="#6cd0e4"/>
<rect x="275" y="226" width="4" height="3" fill="#22f2f2"/>
<rect x="283" y="221" width="1" height="13" fill="#a4a4d4"/>
<rect x="280" y="221" width="6" height="5" fill="#8ccc78"/>
<rect x="281" y="222" width="4" height="3" fill="#66ee22"/>
<rect x="289" y="221" width="1" height="9" fill="#a4a4d4"/>
<rect x="286" y="221" width="6" height="9" fill="#6cd0e4"/>
<rect x="287" y="222" width="4" height="7" fill="#22f2f2"/>
<rect x="295" y="217" width="1" height="9" fill="#a4a4d4"/>
<rect x="293" y="221" width="6" height="1" fill="#a4a4d4"/>
<rect x="301" y="217" width="1" height="9" fill="#a4a4d4"/>
<rect x="299" y="221" width="6" height="5" fill="#8ccc78"/>
<rect x="300" y="222" width="4" height="3" fill="#66ee22"/>
<rect x="308" y="212" width="1" height="14" fill="#a4a4d4"/>
<rect x="305" y="217" width="6" height="9" fill="#6cd0e4"/>
<rect x="306" y="218" width="4" height="7" fill="#22f2f2"/>
<rect x="314" y="179" width="1" height="39" fill="#a4a4d4"/>
<rect x="312" y="183" width="6" height="35" fill="#6cd0e4"/>
<rect x="313" y="184" width="4" height="33" fill="#22f2f2"/>
<rect x="320" y="175" width="1" height="20" fill="#a4a4d4"/>
<rect x="318" y="179" width="6" height="1" fill="#a4a4d4"/>
<rect x="327" y="171" width="1" height="16" fill="#a4a4d4"/>
<rect x="324" y="171" width="6" height="13" fill="#6cd0e4"/>
<rect x="325" y="172" width="4" height="11" fill="#22f2f2"/>
<rect x="333" y="171" width="1" height="13" fill="#a4a4d4"/>
<rect x="330" y="179" width="6" height="1" fill="#a4a4d4"/>
<rect x="339" y="175" width="1" height="9" fill="#a4a4d4"/>
<rect x="337" y="179" width="6" height="5" fill="#8ccc78"/>
<rect x="338" y="180" width="4" height="3" fill="#66ee22"/>
<rect x="345" y="179" width="1" height="12" fill="#a4a4d4"/>
<rect x="343" y="179" width="6" height="5" fill="#6cd0e4"/>
<rect x="344" y="180" width="4" height="3" fill="#22f2f2"/>
<rect x="352" y="179" width="1" height="12" fill="#a4a4d4"/>
<rect x="349" y="179" width="6" height="12" fill="#8ccc78"/>
<rect x="350" y="180" width="4" height="10" fill="#66ee22"/>
<rect x="358" y="183" width="1" height="16" fill="#a4a4d4"/>
<rect x="355" y="190" width="6" height="9" fill="#8ccc78"/>
<rect x="356" y="191" width="4" height="7" fill="#66ee22"/>
<rect x="364" y="186" width="1" height="17" fill="#a4a4d4"/>
<rect x="362" y="194" width="6" height="9" fill="#8ccc78"/>
<rect x="363" y="195" width="4" height="7" fill="#66ee22"/>
<rect x="370" y="183" width="1" height="24" fill="#a4a4d4"/>
<rect x="368" y="183" width="6" height="20" fill="#6cd0e4"/>
<rect x="369" y="184" width="4" height="18" fill="#22f2f2"/>
<rect x="377" y="183" width="1" height="16" fill="#a4a4d4"/>
<rect x="374" y="183" width="6" height="12" fill="#8ccc78"/>
<rect x="375" y="184" width="4" height="10" fill="#66ee22"/>
<rect x="383" y="183" width="1" height="16" fill="#a4a4d4"/>
<rect x="381" y="194" width="6" height="1" fill="#a4a4d4"/>
<rect x="389" y="171" width="1" height="20" fill="#a4a4d4"/>
<rect x="387" y="175" width="6" height="12" fill="#6cd0e4"/>
<rect x="388" y="176" width="4" height="10" fill="#22f2f2"/>
<rect x="396" y="171" width="1" height="13" fill="#a4a4d4"/>
<rect x="393" y="171" width="6" height="9" fill="#6cd0e4"/>
<rect x="394" y="172" width="4" height="7" fill="#22f2f2"/>
<rect x="402" y="167" width="1" height="13" fill="#a4a4d4"/>
<rect x="399" y="171" width="6" height="1" fill="#a4a4d4"/>
<rect x="408" y="167" width="1" height="13" fill="#a4a4d4"/>
<rect x="406" y="171" width="6" height="9" fill="#8ccc78"/>
<rect x="407" y="172" width="4" height="7" fill="#66ee22"/>
<rect x="414" y="167" width="1" height="17" fill="#a4a4d4"/>
<rect x="412" y="172" width="6" height="4" fill="#6cd0e4"/>
<rect x="413" y="173" width="4" height="2" fill="#22f2f2"/>
<rect x="421" y="167" width="1" height="13" fill="#a4a4d4"/>
<rect x="418" y="167" width="6" height="9" fill="#6cd0e4"/>
<rect x="419" y="168" width="4" height="7" fill="#22f2f2"/>
<rect x="427" y="172" width="1" height="8" fill="#a4a4d4"/>
<rect x="424" y="172" width="6" height="4" fill="#8ccc78"/>
<rect x="425" y="173" width="4" height="2" fill="#66ee22"/>
<rect x="433" y="140" width="1" height="36" fill="#a4a4d4"/>
<rect x="431" y="148" width="6" height="28" fill="#6cd0e4"/>
<rect x="432" y="149" width="4" height="26" fill="#22f2f2"/>
<rect x="440" y="140" width="1" height="24" fill="#a4a4d4"/>
<rect x="437" y="148" width="6" height="16" fill="#8ccc78"/>
<rect x="438" y="149" width="4" height="14" fill="#66ee22"/>
<rect x="446" y="155" width="1" height="13" fill="#a4a4d4"/>
<rect x="443" y="155" width="6" height="9" fill="#6cd0e4"/>
<rect x="444" y="156" width="4" height="7" fill="#22f2f2"/>
<rect x="452" y="140" width="1" height="24" fill="#a4a4d4"/>
<rect x="450" y="155" width="6" height="1" fill="#a4a4d4"/>
<rect x="458" y="148" width="1" height="16" fill="#a4a4d4"/>
<rect x="456" y="148" width="6" height="16" fill="#6cd0e4"/>
<rect x="457" y="149" width="4" height="14" fill="#22f2f2"/>
<rect x="465" y="133" width="1" height="16" fill="#a4a4d4"/>
<rect x="462" y="140" width="6" height="9" fill="#8ccc78"/>
<rect x="463" y="141" width="4" height="7" fill="#66ee22"/>
<rect x="471" y="138" width="1" height="17" fill="#a4a4d4"/>
<rect x="468" y="138" width="6" height="1" fill="#a4a4d4"/>
<rect x="477" y="146" width="1" height="13" fill="#a4a4d4"/>
<rect x="475" y="146" width="6" height="13" fill="#8ccc78"/>
<rect x="476" y="147" width="4" height="11" fill="#66ee22"/>
<rect x="483" y="154" width="1" height="16" fill="#a4a4d4"/>
<rect x="481" y="158" width="6" height="12" fill="#8ccc78"/>
<rect x="482" y="159" width="4" height="10" fill="#66ee22"/>
<rect x="490" y="161" width="1" height="9" fill="#a4a4d4"/>
<rect x="487" y="165" width="6" height="1" fill="#a4a4d4"/>
<rect x="496" y="138" width="1" height="21" fill="#a4a4d4"/>
<rect x="493" y="146" width="6" height="1" fill="#a4a4d4"/>
<rect x="502" y="131" width="1" height="28" fill="#a4a4d4"/>
<rect x="500" y="138" width="6" height="21" fill="#8ccc78"/>
<rect x="501" y="139" width="4" height="19" fill="#66ee22"/>
<rect x="509" y="146" width="1" height="20" fill="#a4a4d4"/>
<rect x="506" y="154" width="6" height="12" fill="#8ccc78"/>
<rect x="507" y="155" width="4" height="10" fill="#66ee22"/>
<rect x="515" y="158" width="1" height="24" fill="#a4a4d4"/>
<rect x="512" y="162" width="6" height="12" fill="#8ccc78"/>
<rect x="513" y="163" width="4" height="10" fill="#66ee22"/>
<rect x="521" y="162" width="1" height="12" fill="#a4a4d4"/>
<rect x="519" y="166" width="6" height="4" fill="#8ccc78"/>
<rect x="520" y="167" width="4" height="2" fill="#66ee22"/>
<rect x="527" y="162" width="1" height="12" fill="#a4a4d4"/>
<rect x="525" y="165" width="6" height="5" fill="#6cd0e4"/>
<rect x="526" y="166" width="4" height="3" fill="#22f2f2"/>
<rect x="534" y="162" width="1" height="8" fill="#a4a4d4"/>
<rect x="531" y="162" width="6" height="4" fill="#6cd0e4"/>
<rect x="532" y="163" width="4" height="2" fill="#22f2f2"/>
<rect x="540" y="157" width="1" height="9" fill="#a4a4d4"/>
<rect x="537" y="165" width="6" height="1" fill="#a4a4d4"/>
<rect x="546" y="154" width="1" height="12" fill="#a4a4d4"/>
<rect x="544" y="158" width="6" height="8" fill="#6cd0e4"/>
<rect x="545" y="159" width="4" height="6" fill="#22f2f2"/>
<rect x="552" y="138" width="1" height="17" fill="#a4a4d4"/>
<rect x="550" y="154" width="6" height="1" fill="#a4a4d4"/>
<rect x="559" y="146" width="1" height="17" fill="#a4a4d4"/>
<rect x="556" y="146" width="6" height="9" fill="#6cd0e4"/>
<rect x="557" y="147" width="4" height="7" fill="#22f2f2"/>
<rect x="565" y="146" width="1" height="13" fill="#a4a4d4"/>
<rect x="562" y="146" width="6" height="13" fill="#8ccc78"/>
<rect x="563" y="147" width="4" height="11" fill="#66ee22"/>
<rect x="571" y="138" width="1" height="21" fill="#a4a4d4"/>
<rect x="569" y="138" width="6" height="17" fill="#6cd0e4"/>
<rect x="570" y="139" width="4" height="15" fill="#22f2f2"/>
<rect x="578" y="138" width="1" height="17" fill="#a4a4d4"/>
<rect x="575" y="138" width="6" height="17" fill="#8ccc78"/>
<rect x="576" y="139" width="4" height="15" fill="#66ee22"/>
<rect x="584" y="138" width="1" height="21" fill="#a4a4d4"/>
<rect x="581" y="155" width="6" height="4" fill="#8ccc78"/>
<rect x="582" y="156" width="4" height="2" fill="#66ee22"/>
<rect x="590" y="146" width="1" height="16" fill="#a4a4d4"/>
<rect x="588" y="154" width="6" height="1" fill="#a4a4d4"/>
<rect x="596" y="146" width="1" height="20" fill="#a4a4d4"/>
<rect x="594" y="154" width="6" height="12" fill="#8ccc78"/>
<rect x="595" y="155" width="4" height="10" fill="#66ee22"/>
<rect x="603" y="123" width="1" height="43" fill="#a4a4d4"/>
<rect x="600" y="131" width="6" height="35" fill="#6cd0e4"/>
<rect x="601" y="132" width="4" height="33" fill="#22f2f2"/>
<rect x="609" y="123" width="1" height="24" fill="#a4a4d4"/>
<rect x="606" y="131" width="6" height="16" fill="#8ccc78"/>
<rect x="607" y="132" width="4" height="14" fill="#66ee22"/>
<rect x="615" y="138" width="1" height="17" fill="#a4a4d4"/>
<rect x="613" y="146" width="6" height="9" fill="#8ccc78"/>
<rect x="614" y="147" width="4" height="7" fill="#66ee22"/>
<rect x="621" y="138" width="1" height="17" fill="#a4a4d4"/>
<rect x="619" y="146" width="6" height="9" fill="#6cd0e4"/>
<rect x="620" y="147" width="4" height="7" fill="#22f2f2"/>
<rect x="628" y="131" width="1" height="16" fill="#a4a4d4"/>
<rect x="625" y="138" width="6" height="9" fill="#6cd0e4"/>
<rect x="626" y="139" width="4" height="7" fill="#22f2f2"/>
<rect x="634" y="123" width="1" height="16" fill="#a4a4d4"/>
<rect x="632" y="123" width="6" height="16" fill="#6cd0e4"/>
<rect x="633" y="124" width="4" height="14" fill="#22f2f2"/>
<rect x="640" y="123" width="1" height="16" fill="#a4a4d4"/>
<rect x="638" y="123" width="6" height="8" fill="#8ccc78"/>
<rect x="639" y="124" width="4" height="6" fill="#66ee22"/>
<rect x="647" y="132" width="1" height="15" fill="#a4a4d4"/>
<rect x="644" y="132" width="6" height="7" fill="#8ccc78"/>
<rect x="645" y="133" width="4" height="5" fill="#66ee22"/>
<rect x="653" y="138" width="1" height="9" fill="#a4a4d4"/>
<rect x="650" y="138" width="6" height="9" fill="#8ccc78"/>
<rect x="651" y="139" width="4" height="7" fill="#66ee22"/>
<rect x="659" y="138" width="1" height="21" fill="#a4a4d4"/>
<rect x="657" y="138" width="6" height="9" fill="#8ccc78"/>
<rect x="658" y="139" width="4" height="7" fill="#66ee22"/>
<rect x="665" y="154" width="1" height="12" fill="#a4a4d4"/>
<rect x="663" y="158" width="6" height="1" fill="#a4a4d4"/>
<rect x="672" y="165" width="1" height="17" fill="#a4a4d4"/>
<rect x="669" y="165" width="6" height="1" fill="#a4a4d4"/>
<rect x="678" y="162" width="1" height="24" fill="#a4a4d4"/>
<rect x="675" y="165" width="6" height="17" fill="#8ccc78"/>
<rect x="676" y="166" width="4" height="15" fill="#66ee22"/>
<rect x="684" y="169" width="1" height="13" fill="#a4a4d4"/>
<rect x="682" y="169" width="6" height="13" fill="#6cd0e4"/>
<rect x="683" y="170" width="4" height="11" fill="#22f2f2"/>
<rect x="690" y="169" width="1" height="13" fill="#a4a4d4"/>
<rect x="688" y="169" width="6" height="5" fill="#6cd0e4"/>
<rect x="689" y="170" width="4" height="3" fill="#22f2f2"/>
<rect x="697" y="173" width="1" height="13" fill="#a4a4d4"/>
<rect x="694" y="177" width="6" height="5" fill="#8ccc78"/>
<rect x="695" y="178" width="4" height="3" fill="#66ee22"/>
<rect x="703" y="169" width="1" height="13" fill="#a4a4d4"/>
<rect x="701" y="169" width="6" height="13" fill="#6cd0e4"/>
<rect x="702" y="170" width="4" height="11" fill="#22f2f2"/>
<rect x="709" y="162" width="1" height="12" fill="#a4a4d4"/>
<rect x="707" y="162" width="6" height="12" fill="#6cd0e4"/>
<rect x="708" y="163" width="4" height="10" fill="#22f2f2"/>
<rect x="716" y="165" width="1" height="9" fill="#a4a4d4"/>
<rect x="713" y="165" width="6" height="5" fill="#8ccc78"/>
<rect x="714" y="166" width="4" height="3" fill="#66ee22"/>
<rect x="722" y="107" width="1" height="75" fill="#a4a4d4"/>
<rect x="719" y="123" width="6" height="47" fill="#6cd0e4"/>
<rect x="720" y="124" width="4" height="45" fill="#22f2f2"/>
<rect x="728" y="123" width="1" height="24" fill="#a4a4d4"/>
<rect x="726" y="131" width="6" height="16" fill="#8ccc78"/>
<rect x="727" y="132" width="4" height="14" fill="#66ee22"/>
<rect x="734" y="138" width="1" height="9" fill="#a4a4d4"/>
<rect x="732" y="138" width="6" height="1" fill="#a4a4d4"/>
<rect x="741" y="138" width="1" height="17" fill="#a4a4d4"/>
<rect x="738" y="146" width="6" height="9" fill="#8ccc78"/>
<rect x="739" y="147" width="4" height="7" fill="#66ee22"/>
<rect x="747" y="138" width="1" height="17" fill="#a4a4d4"/>
<rect x="744" y="146" width="6" height="1" fill="#a4a4d4"/>
<rect x="753" y="138" width="1" height="17" fill="#a4a4d4"/>
<rect x="751" y="146" width="6" height="9" fill="#8ccc78"/>
<rect x="752" y="147" width="4" height="7" fill="#66ee22"/>
<rect x="759" y="138" width="1" height="21" fill="#a4a4d4"/>
<rect x="757" y="146" width="6" height="9" fill="#6cd0e4"/>
<rect x="758" y="147" width="4" height="7" fill="#22f2f2"/>
<rect x="766" y="138" width="1" height="21" fill="#a4a4d4"/>
<rect x="763" y="138" width="6" height="17" fill="#8ccc78"/>
<rect x="764" y="139" width="4" height="15" fill="#66ee22"/>
<rect x="772" y="154" width="1" height="12" fill="#a4a4d4"/>
<rect x="770" y="154" width="6" height="5" fill="#8ccc78"/>
<rect x="771" y="155" width="4" height="3" fill="#66ee22"/>
<rect x="778" y="146" width="1" height="13" fill="#a4a4d4"/>
<rect x="776" y="154" width="6" height="5" fill="#6cd0e4"/>
<rect x="777" y="155" width="4" height="3" fill="#22f2f2"/>
<rect x="785" y="146" width="1" height="17" fill="#a4a4d4"/>
<rect x="782" y="154" width="6" height="9" fill="#8ccc78"/>
<rect x="783" y="155" width="4" height="7" fill="#66ee22"/>
<rect x="791" y="146" width="1" height="17" fill="#a4a4d4"/>
<rect x="788" y="146" width="6" height="17" fill="#6cd0e4"/>
<rect x="789" y="147" width="4" height="15" fill="#22f2f2"/>
<rect x="797" y="146" width="1" height="13" fill="#a4a4d4"/>
<rect x="795" y="146" width="6" height="9" fill="#8ccc78"/>
<rect x="796" y="147" width="4" height="7" fill="#66ee22"/>
<rect x="803" y="146" width="1" height="9" fill="#a4a4d4"/>
<rect x="801" y="154" width="6" height="1" fill="#a4a4d4"/>
</g>
<g stroke="#74b6f8" stroke-width="1.15" fill="none" stroke-linecap="round" stroke-linejoin="round">
<line x1="19" y1="228" x2="801" y2="54"/>
<line x1="10" y1="294.5" x2="801" y2="117.4"/>
<polyline points="19,231 232,245 461.5,129 513,182 719.3,107 788.5,147"/>
</g>
<defs><linearGradient id="ag" x1="0" x2="1" y1="0" y2="0"><stop offset="0" stop-color="#e0a000"/><stop offset="0.35" stop-color="#f8c818"/><stop offset="0.6" stop-color="#ffe040"/><stop offset="1" stop-color="#fff090"/></linearGradient></defs>
<polygon points="753,100 760,100 760,112 765,112 756.5,124 748.5,112 753,112" fill="url(#ag)" stroke="#fff0a0" stroke-width="0.6"/>
<g shape-rendering="crispEdges" fill="#cccccc">
<rect x="811" y="19" width="3" height="1"/>
<rect x="811" y="38" width="3" height="1"/>
<rect x="811" y="57" width="3" height="1"/>
<rect x="811" y="77" width="3" height="1"/>
<rect x="811" y="96" width="3" height="1"/>
<rect x="811" y="115" width="3" height="1"/>
<rect x="811" y="135" width="3" height="1"/>
<rect x="811" y="154" width="3" height="1"/>
<rect x="811" y="173" width="3" height="1"/>
<rect x="811" y="193" width="3" height="1"/>
<rect x="811" y="212" width="3" height="1"/>
<rect x="811" y="231" width="3" height="1"/>
<rect x="811" y="251" width="3" height="1"/>
<rect x="811" y="270" width="3" height="1"/>
<rect x="811" y="289" width="3" height="1"/>
<rect x="811" y="321" width="3" height="1"/>
<rect x="811" y="339" width="3" height="1"/>
<rect x="811" y="356" width="3" height="1"/>
<rect x="811" y="373" width="3" height="1"/>
<rect x="811" y="391" width="3" height="1"/>
<rect x="811" y="408" width="3" height="1"/>
<rect x="811" y="426" width="3" height="1"/>
<rect x="811" y="443" width="3" height="1"/>
<rect x="88" y="447" width="1" height="3"/>
<rect x="221" y="447" width="1" height="3"/>
<rect x="361" y="447" width="1" height="3"/>
<rect x="494" y="447" width="1" height="3"/>
<rect x="633" y="447" width="1" height="3"/>
<rect x="760" y="447" width="1" height="3"/>
</g>
<text class="yl" x="817.32 823.88 827.33 834.41 841.47" y="23">0.675</text>
<text class="yl" x="817.32 823.88 827.33 834.42" y="42">0.65</text>
<text class="yl" x="817.32 823.88 827.33 834.42 841.47" y="61">0.625</text>
<text class="yl" x="817.32 823.88 827.33" y="81">0.6</text>
<text class="yl" x="817.32 823.88 827.38 834.41 841.47" y="100">0.575</text>
<text class="yl" x="817.32 823.88 827.38 834.42" y="119">0.55</text>
<text class="yl" x="817.32 823.88 827.38 834.42 841.47" y="139">0.525</text>
<text class="yl" x="817.32 823.88 827.38" y="158">0.5</text>
<text class="yl" x="817.32 823.88 827.4 834.41 841.47" y="177">0.475</text>
<text class="yl" x="817.32 823.88 827.4 834.42" y="197">0.45</text>
<text class="yl" x="817.32 823.88 827.4 834.42 841.47" y="216">0.425</text>
<text class="yl" x="817.32 823.88 827.4" y="235">0.4</text>
<text class="yl" x="817.32 823.88 827.4 834.41 841.47" y="255">0.375</text>
<text class="yl" x="817.32 823.88 827.4 834.42" y="274">0.35</text>
<text class="yl" x="817.32 823.88 827.4 834.42 841.47" y="293">0.325</text>
<text class="yl" x="817.37 824.41 830.84" y="325.5">70K</text>
<text class="yl" x="817.33 824.41 830.84" y="343">60K</text>
<text class="yl" x="817.38 824.41 830.84" y="360">50K</text>
<text class="yl" x="817.4 824.41 830.84" y="377">40K</text>
<text class="yl" x="817.4 824.41 830.84" y="395">30K</text>
<text class="yl" x="817.37 824.41 830.84" y="412">20K</text>
<text class="yl" x="817.21 824.41 830.84" y="430">10K</text>
<text class="yl" x="817.37" y="447.5">0</text>
<rect x="77" y="458" width="4" height="1" fill="#e4e4e4"/>
<rect x="90" y="458" width="4" height="1" fill="#e4e4e4"/>
<text class="dl" x="69.34 82.59 95.91 102.55" y="462">2625</text>
<rect x="210" y="458" width="4" height="1" fill="#e4e4e4"/>
<rect x="223" y="458" width="4" height="1" fill="#e4e4e4"/>
<text class="dl" x="202.34 215.62 228.91 235.55" y="462">2725</text>
<rect x="350" y="458" width="4" height="1" fill="#e4e4e4"/>
<rect x="363" y="458" width="4" height="1" fill="#e4e4e4"/>
<text class="dl" x="342.19 355.62 368.9 375.55" y="462">1825</text>
<rect x="483" y="458" width="4" height="1" fill="#e4e4e4"/>
<rect x="496" y="458" width="4" height="1" fill="#e4e4e4"/>
<text class="dl" x="475.19 488.62 501.9 508.55" y="462">1925</text>
<rect x="619" y="458" width="4" height="1" fill="#e4e4e4"/>
<rect x="639" y="458" width="4" height="1" fill="#e4e4e4"/>
<text class="dl" x="611.03 624.15 630.94 644.23 650.87" y="462">21025</text>
<rect x="746" y="458" width="4" height="1" fill="#e4e4e4"/>
<rect x="766" y="458" width="4" height="1" fill="#e4e4e4"/>
<text class="dl" x="738.06 751.15 757.79 771.23 777.87" y="462">31125</text>
<text class="cp" x="686.6" y="475" textLength="45.6" lengthAdjust="spacingAndGlyphs">Copyright</text>
<text class="cp" x="736.6" y="475" textLength="11.4" lengthAdjust="spacingAndGlyphs">by</text>
<text class="cp" x="749.8" y="475" textLength="74.6" lengthAdjust="spacingAndGlyphs">AASTOCKS.com</text>
<text class="cp" x="828.2" y="475" textLength="18.0" lengthAdjust="spacingAndGlyphs">Ltd.</text>
</svg></div></body></html>
